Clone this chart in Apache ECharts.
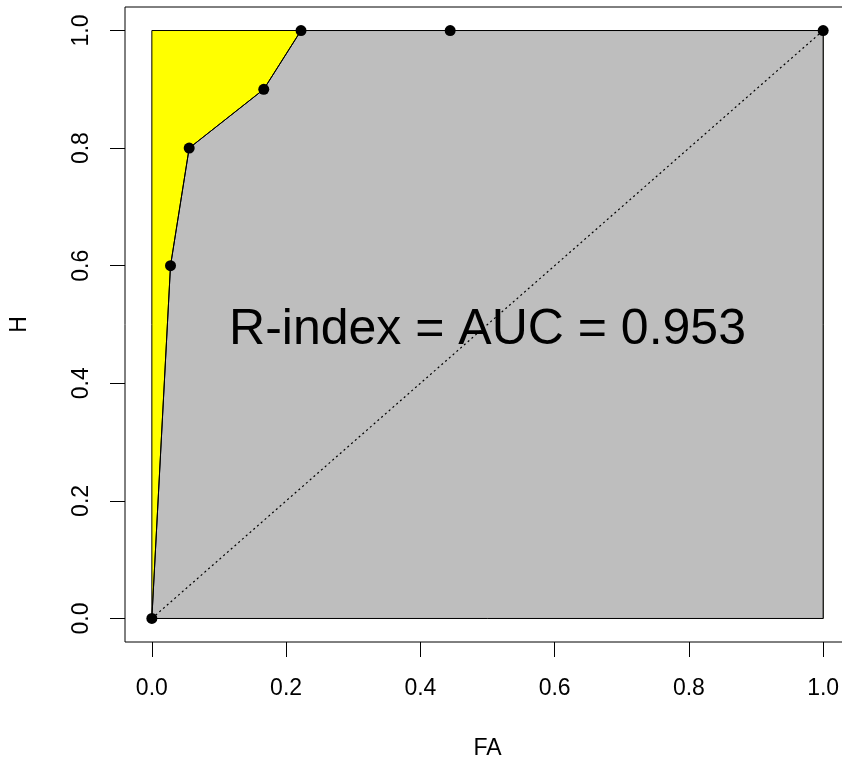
<!DOCTYPE html>
<html>
<head>
<meta charset="utf-8">
<title>ROC curve</title>
<script src="https://cdn.jsdelivr.net/npm/echarts@6/dist/echarts.min.js"></script>
<style>
  html, body { margin: 0; padding: 0; background: #fff; }
  #chart { width: 842px; height: 762px; }
</style>
</head>
<body>
<div id="chart"></div>
<script>
// ROC points: false-alarm rate (FA) and hit rate (H)
const faValues = [0, 0.0278, 0.0556, 0.1667, 0.2222, 0.4444, 1];
const hitValues = [0, 0.6, 0.8, 0.9, 1, 1, 1];
// unit square and chance diagonal
const squareFA = [0, 0, 1, 1];
const squareH = [0, 1, 1, 0];
const chanceFA = [0, 1];
const chanceH = [0, 1];
const tickValues = [0, 0.2, 0.4, 0.6, 0.8, 1];

const rocPoints = faValues.map((x, i) => [x, hitValues[i]]);
const squarePoints = squareFA.map((x, i) => [x, squareH[i]]);
const chancePoints = chanceFA.map((x, i) => [x, chanceH[i]]);
// area under the ROC curve closed along the bottom edge
const underCurve = rocPoints.concat([[1, 0]]);

// trapezoidal area under the ROC curve
let auc = 0;
for (let i = 1; i < rocPoints.length; i++) {
  auc += (rocPoints[i][0] - rocPoints[i - 1][0]) * (rocPoints[i][1] + rocPoints[i - 1][1]) / 2;
}
const aucText = 'R-index = AUC = ' + auc.toFixed(3);

const FONT = '"Liberation Sans", Arial, sans-serif';
const AXIS_FONT = 23;

function polygonSeries(points, fill, z) {
  return {
    type: 'custom',
    z: z,
    silent: true,
    data: [[0, 0]],
    renderItem: function (params, api) {
      return {
        type: 'polygon',
        shape: { points: points.map(p => api.coord(p)) },
        style: { fill: fill, stroke: '#000', lineWidth: 1 }
      };
    }
  };
}

const chart = echarts.init(document.getElementById('chart'), null, { renderer: 'canvas' });
chart.setOption({
  animation: false,
  backgroundColor: '#fff',
  grid: {
    left: 125, top: 7, width: 725, height: 635,
    containLabel: false,
    outerBoundsMode: 'none',
    show: true, borderColor: '#000', borderWidth: 1, backgroundColor: 'transparent'
  },
  xAxis: {
    type: 'value', min: -0.04, max: 1.04,
    name: 'FA', nameLocation: 'middle', nameGap: 95, nameMoveOverlap: false,
    nameTextStyle: { fontFamily: FONT, fontSize: AXIS_FONT, color: '#000' },
    axisLine: { show: false, onZero: false },
    splitLine: { show: false },
    axisTick: { show: true, inside: false, length: 15, customValues: tickValues, lineStyle: { color: '#000' } },
    axisLabel: {
      show: true, customValues: tickValues, margin: 35,
      formatter: v => v.toFixed(1),
      fontFamily: FONT, fontSize: AXIS_FONT, color: '#000'
    }
  },
  yAxis: {
    type: 'value', min: -0.04, max: 1.04,
    name: 'H', nameLocation: 'middle', nameGap: 94, nameRotate: 90, nameMoveOverlap: false,
    nameTextStyle: { fontFamily: FONT, fontSize: AXIS_FONT, color: '#000' },
    axisLine: { show: false, onZero: false },
    splitLine: { show: false },
    axisTick: { show: true, inside: false, length: 15, customValues: tickValues, lineStyle: { color: '#000' } },
    axisLabel: {
      show: true, customValues: tickValues, margin: 32, rotate: 90,
      formatter: v => v.toFixed(1),
      fontFamily: FONT, fontSize: AXIS_FONT, color: '#000'
    }
  },
  series: [
    polygonSeries(squarePoints, '#ffff00', 1),
    polygonSeries(underCurve, '#bebebe', 2),
    {
      type: 'line', z: 3, silent: true,
      data: chancePoints,
      symbol: 'none',
      lineStyle: { color: '#000', width: 1.2, type: [2, 3] }
    },
    {
      type: 'line', z: 4, silent: true,
      data: rocPoints,
      symbol: 'circle', symbolSize: 11, showAllSymbol: true,
      itemStyle: { color: '#000' },
      lineStyle: { color: '#000', width: 1 }
    },
    {
      type: 'custom', z: 5, silent: true,
      data: [[0.5, 0.5]],
      renderItem: function (params, api) {
        const p = api.coord([api.value(0), api.value(1)]);
        return {
          type: 'text',
          x: p[0], y: p[1] + 6,
          style: {
            text: aucText,
            fontFamily: FONT, fontSize: 50, fill: '#000',
            align: 'center', verticalAlign: 'middle'
          }
        };
      }
    }
  ]
});
</script>
</body>
</html>
